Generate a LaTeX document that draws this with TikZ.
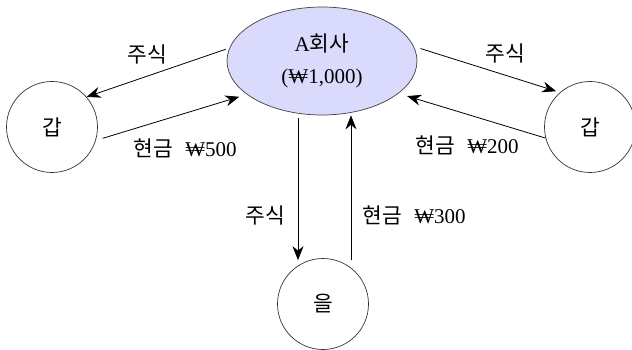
\documentclass[tikz,border=0pt]{standalone}
\usepackage{fontspec}
\setmainfont{Liberation Serif}
\newfontfamily\kr{Noto Sans CJK KR}[Scale=1.02]
\usetikzlibrary{shapes.geometric,arrows.meta}
\definecolor{firmfill}{RGB}{218,218,252}
\begin{document}
\begin{tikzpicture}[x=1pt,y=-1pt,
  lbl/.style={font=\fontsize{21}{24}\selectfont, inner sep=0pt},
  party/.style={circle, draw=black!80, line width=0.7pt, minimum size=91pt, inner sep=0pt, font=\fontsize{21}{24}\selectfont\kr},
  firm/.style={ellipse, draw=black!75, fill=firmfill, line width=0.7pt, minimum width=190pt, minimum height=108pt, inner sep=0pt, align=center, font=\fontsize{21}{32}\selectfont},
  flow/.style={line width=0.8pt, -{Stealth[length=14pt,width=11pt]}}]
\useasboundingbox (0,0) rectangle (632,350);
\node[firm] (A) at (322,61) {A{\kr 회사}\\(₩1,000)};
\node[party] (g1) at (52,127) {갑};
\node[party] (g2) at (590,127) {갑};
\node[party] (e) at (323,304) {을};
% flows
\draw[flow, shorten <=4pt] (A.172) -- (g1.41);
\draw[flow, shorten <=7pt, shorten >=8pt] (g1.-17) -- (A.204);
\draw[flow, shorten <=7pt, shorten >=4pt] (A.9) -- (g2.131);
\draw[flow, shorten >=9pt] (g2.194) -- (A.-23);
\draw[flow, shorten <=3pt, shorten >=-2pt] ([xshift=-24pt]A.south) -- ([xshift=-24pt]A.south |- e.north);
\draw[flow, shorten <=-2pt] ([xshift=29pt]A.south |- e.north) -- ([xshift=29pt]A.south);
% labels
\node[lbl] (l1) at (147,54) {\kr 주식};
\node[lbl] (l2) at (185,148) {{\kr 현금}\hspace{0.6em}₩500};
\node[lbl] (l3) at (505,53) {\kr 주식};
\node[lbl] (l4) at (467,145) {{\kr 현금}\hspace{0.6em}₩200};
\node[lbl] (l5) at (265,215) {\kr 주식};
\node[lbl] (l6) at (414,215) {{\kr 현금}\hspace{0.6em}₩300};
\end{tikzpicture}
\end{document}
